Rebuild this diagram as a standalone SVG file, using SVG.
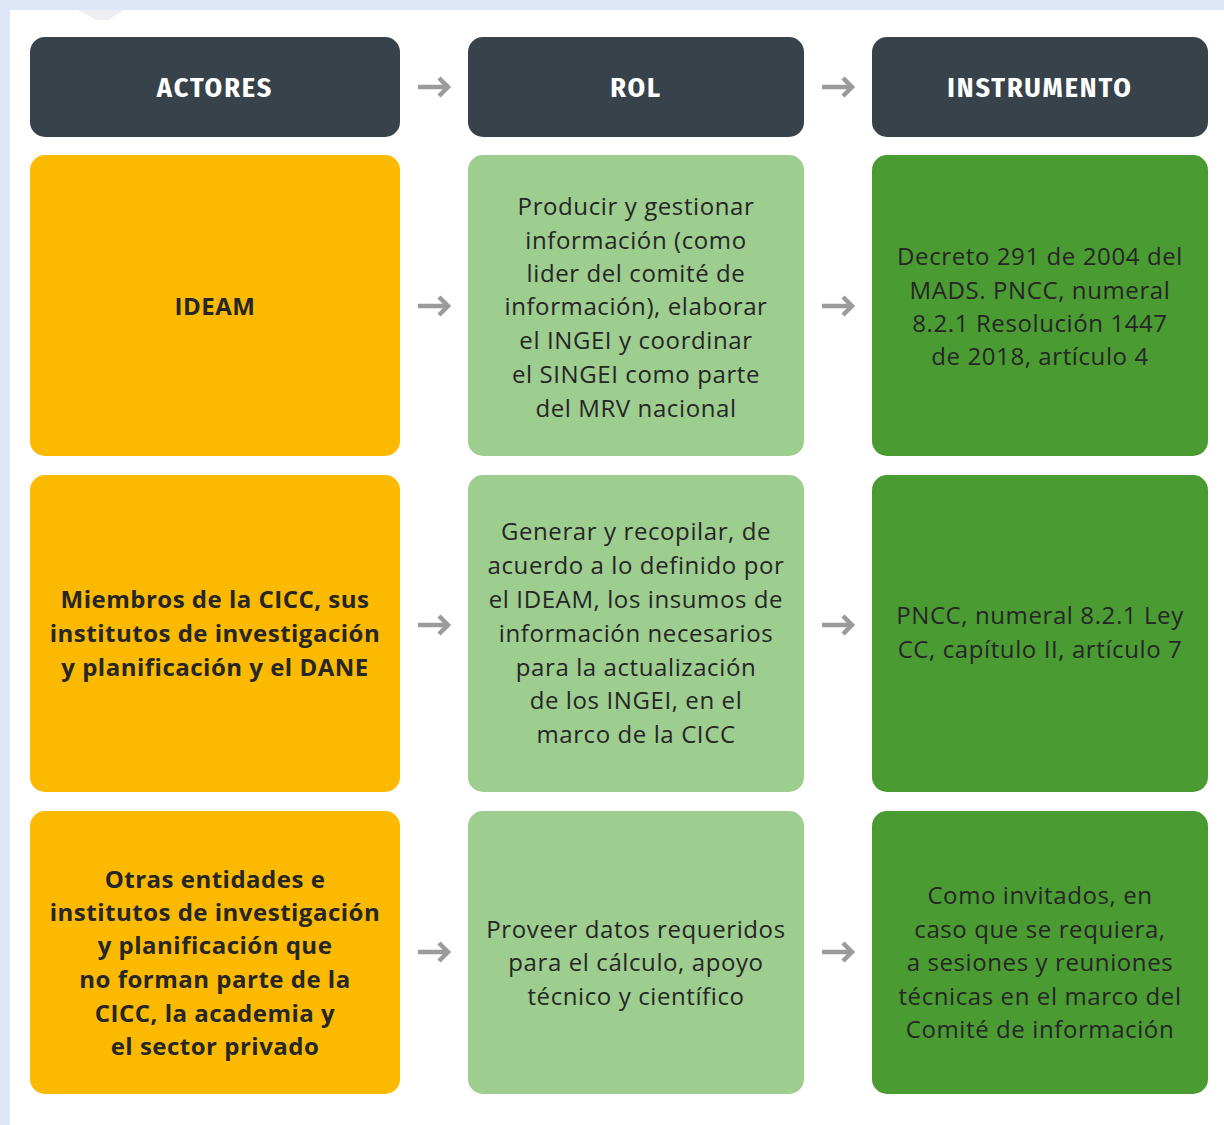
<svg xmlns="http://www.w3.org/2000/svg" width="1224" height="1125" viewBox="0 0 1224 1125">
<style>
.hdr{fill:#37424a}
.org{fill:#fbb900}
.lg{fill:#9dcd8f}
.dg{fill:#4a9b32}
.ht{font-family:"Fira Sans Condensed","Roboto Condensed","Liberation Sans Narrow",Roboto,sans-serif;font-weight:700;font-size:28px;letter-spacing:1.9px;fill:#ffffff;text-anchor:middle}
.t{font-family:"Open Sans",Roboto,sans-serif;font-size:24px;letter-spacing:0.6px;fill:#262626;text-anchor:middle}
.b{font-family:"Open Sans",Roboto,sans-serif;font-size:24px;letter-spacing:0.5px;font-weight:700;fill:#262626;text-anchor:middle}
.arr{fill:none;stroke:#9b9b9b;stroke-width:4.5;stroke-linecap:butt;stroke-linejoin:miter}
</style>
<defs>
<path id="arrow" d="M-16,0 H14 M5,-9 L14,0 L5,9"/>
</defs>
<rect x="0" y="0" width="1224" height="1125" fill="#dde6f6"/>
<rect x="10" y="10" width="1214" height="1115" fill="#ffffff"/>
<polygon points="78,10 124,10 108,20 96,20" fill="#eceef1"/>

<g id="h-actores"><rect class="hdr" x="30" y="37" width="370" height="100" rx="15"/><text class="ht" x="215" y="97">ACTORES</text></g>
<g id="h-rol"><rect class="hdr" x="468" y="37" width="336" height="100" rx="15"/><text class="ht" x="636" y="97">ROL</text></g>
<g id="h-instrumento"><rect class="hdr" x="872" y="37" width="336" height="100" rx="15"/><text class="ht" x="1040" y="97">INSTRUMENTO</text></g>

<g id="r1-actor"><rect class="org" x="30" y="155" width="370" height="301" rx="15"/><text class="b" x="215" y="315">IDEAM</text></g>
<g id="r1-rol"><rect class="lg" x="468" y="155" width="336" height="301" rx="15"/>
<text class="t" x="636" y="215">Producir y gestionar</text>
<text class="t" x="636" y="249">información (como</text>
<text class="t" x="636" y="282">lider del comité de</text>
<text class="t" x="636" y="315">información), elaborar</text>
<text class="t" x="636" y="349">el INGEI y coordinar</text>
<text class="t" x="636" y="383">el SINGEI como parte</text>
<text class="t" x="636" y="417">del MRV nacional</text></g>
<g id="r1-instr"><rect class="dg" x="872" y="155" width="336" height="301" rx="15"/>
<text class="t" x="1040" y="265">Decreto 291 de 2004 del</text>
<text class="t" x="1040" y="299">MADS. PNCC, numeral</text>
<text class="t" x="1040" y="332">8.2.1 Resolución 1447</text>
<text class="t" x="1040" y="365">de 2018, artículo 4</text></g>

<g id="r2-actor"><rect class="org" x="30" y="475" width="370" height="317" rx="15"/>
<text class="b" x="215" y="608">Miembros de la CICC, sus</text>
<text class="b" x="215" y="642">institutos de investigación</text>
<text class="b" x="215" y="676">y planificación y el DANE</text></g>
<g id="r2-rol"><rect class="lg" x="468" y="475" width="336" height="317" rx="15"/>
<text class="t" x="636" y="540">Generar y recopilar, de</text>
<text class="t" x="636" y="574">acuerdo a lo definido por</text>
<text class="t" x="636" y="608">el IDEAM, los insumos de</text>
<text class="t" x="636" y="642">información necesarios</text>
<text class="t" x="636" y="676">para la actualización</text>
<text class="t" x="636" y="709">de los INGEI, en el</text>
<text class="t" x="636" y="743">marco de la CICC</text></g>
<g id="r2-instr"><rect class="dg" x="872" y="475" width="336" height="317" rx="15"/>
<text class="t" x="1040" y="624">PNCC, numeral 8.2.1 Ley</text>
<text class="t" x="1040" y="658">CC, capítulo II, artículo 7</text></g>

<g id="r3-actor"><rect class="org" x="30" y="811" width="370" height="283" rx="15"/>
<text class="b" x="215" y="888">Otras entidades e</text>
<text class="b" x="215" y="921">institutos de investigación</text>
<text class="b" x="215" y="954">y planificación que</text>
<text class="b" x="215" y="988">no forman parte de la</text>
<text class="b" x="215" y="1022">CICC, la academia y</text>
<text class="b" x="215" y="1055">el sector privado</text></g>
<g id="r3-rol"><rect class="lg" x="468" y="811" width="336" height="283" rx="15"/>
<text class="t" x="636" y="938">Proveer datos requeridos</text>
<text class="t" x="636" y="971">para el cálculo, apoyo</text>
<text class="t" x="636" y="1005">técnico y científico</text></g>
<g id="r3-instr"><rect class="dg" x="872" y="811" width="336" height="283" rx="15"/>
<text class="t" x="1040" y="904">Como invitados, en</text>
<text class="t" x="1040" y="938">caso que se requiera,</text>
<text class="t" x="1040" y="971">a sesiones y reuniones</text>
<text class="t" x="1040" y="1005">técnicas en el marco del</text>
<text class="t" x="1040" y="1038">Comité de información</text></g>

<g id="connectors" class="arr">
<use href="#arrow" x="434" y="87"/><use href="#arrow" x="838" y="87"/>
<use href="#arrow" x="434" y="306"/><use href="#arrow" x="838" y="306"/>
<use href="#arrow" x="434" y="625"/><use href="#arrow" x="838" y="625"/>
<use href="#arrow" x="434" y="952"/><use href="#arrow" x="838" y="952"/>
</g>
</svg>
